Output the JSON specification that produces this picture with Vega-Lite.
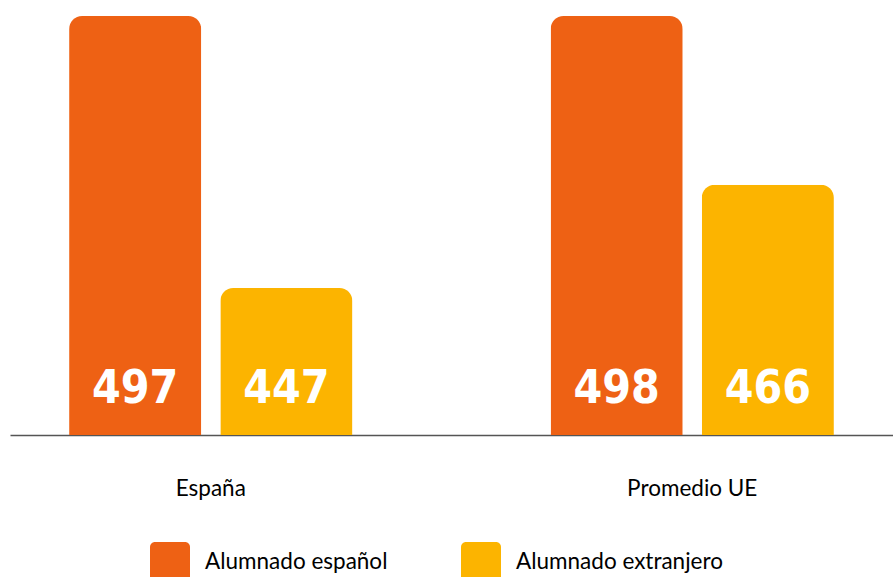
{
  "$schema": "https://vega.github.io/schema/vega-lite/v6.json",
  "width": 883,
  "height": 419,
  "autosize": {"type": "none"},
  "padding": {"left": 10, "top": 16, "right": 0, "bottom": 142},
  "background": "white",
  "config": {"view": {"stroke": null}, "font": "Lato"},
  "data": {
    "values": [
      {"region": "España", "grupo": "Alumnado español", "valor": 497},
      {"region": "España", "grupo": "Alumnado extranjero", "valor": 447},
      {"region": "Promedio UE", "grupo": "Alumnado español", "valor": 498},
      {"region": "Promedio UE", "grupo": "Alumnado extranjero", "valor": 466}
    ]
  },
  "encoding": {
    "x": {
      "field": "region",
      "type": "nominal",
      "sort": null,
      "scale": {"paddingInner": 0.4116, "paddingOuter": 0.1228},
      "axis": {
        "title": null,
        "ticks": false,
        "domainColor": "#555555",
        "domainWidth": 1.5,
        "labelAngle": 0,
        "labelFont": "Lato",
        "labelFontSize": 22.5,
        "labelColor": "#000000",
        "labelPadding": 42
      }
    },
    "xOffset": {
      "field": "grupo",
      "type": "nominal",
      "sort": null,
      "scale": {"paddingInner": 0.126, "paddingOuter": 0}
    }
  },
  "layer": [
    {
      "mark": {"type": "bar", "cornerRadiusTopLeft": 13, "cornerRadiusTopRight": 13},
      "encoding": {
        "y": {
          "field": "valor",
          "type": "quantitative",
          "scale": {"domain": [420, 497], "clamp": true, "nice": false, "zero": false},
          "axis": null
        },
        "color": {
          "field": "grupo",
          "type": "nominal",
          "sort": null,
          "scale": {"domain": ["Alumnado español", "Alumnado extranjero"], "range": ["#EE6114", "#FCB400"]},
          "legend": {
            "title": null,
            "orient": "none",
            "direction": "horizontal",
            "legendX": 140,
            "legendY": 526,
            "symbolType": "M-0.75,-1L0.75,-1A0.25,0.25,0,0,1,1,-0.75L1,0.75A0.25,0.25,0,0,1,0.75,1L-0.75,1A0.25,0.25,0,0,1,-1,0.75L-1,-0.75A0.25,0.25,0,0,1,-0.75,-1Z",
            "symbolSize": 1600,
            "symbolStrokeWidth": 0,
            "symbolOpacity": 1,
            "labelFont": "Lato",
            "labelFontSize": 22.5,
            "labelColor": "#000000",
            "labelOffset": 15,
            "columnPadding": 73,
            "labelLimit": 400
          }
        }
      }
    },
    {
      "mark": {
        "type": "text",
        "font": "DejaVu Sans Condensed",
        "fontWeight": "bold",
        "fontSize": 46,
        "color": "white",
        "baseline": "middle",
        "dy": -46
      },
      "encoding": {
        "y": {"datum": 420, "type": "quantitative"},
        "text": {"field": "valor", "type": "quantitative"}
      }
    }
  ]
}
